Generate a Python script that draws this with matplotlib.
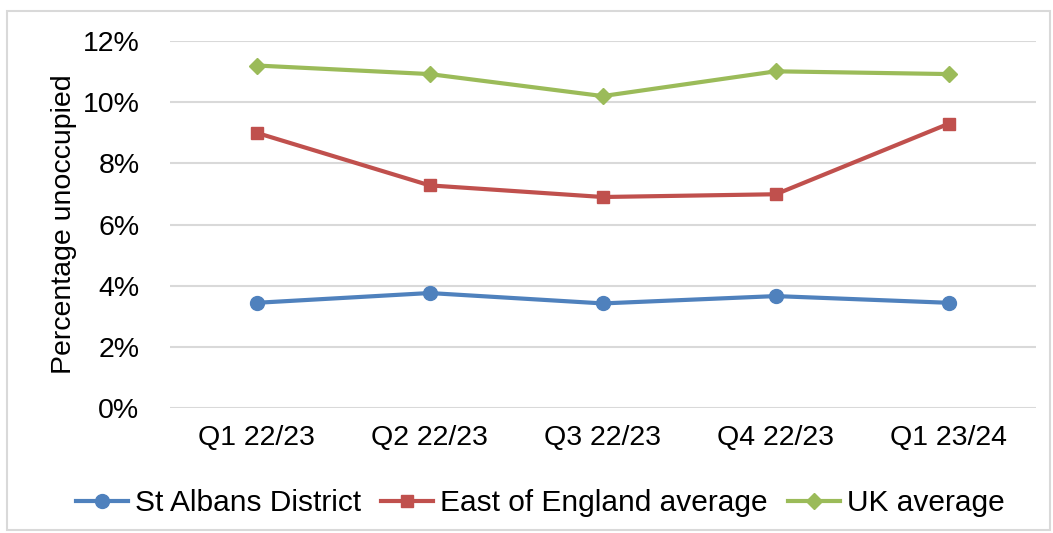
import matplotlib
matplotlib.use("Agg")
from matplotlib import pyplot as plt
from matplotlib.patches import Rectangle
from matplotlib.ticker import FuncFormatter

quarters = ["Q1 22/23", "Q2 22/23", "Q3 22/23", "Q4 22/23", "Q1 23/24"]
st_albans = [3.44, 3.76, 3.42, 3.66, 3.44]
east_england = [9.0, 7.28, 6.90, 6.99, 9.30]
uk_avg = [11.20, 10.92, 10.20, 11.01, 10.92]

plt.rcParams['font.family'] = ['Liberation Sans', 'DejaVu Sans']
plt.rcParams['font.size'] = 20.5

fig = plt.figure(figsize=(10.53, 5.33), dpi=100)
ax = fig.add_axes([0.1614, 0.2345, 0.822, 0.6885])

x = range(len(quarters))
ax.plot(x, st_albans, color='#4F81BD', lw=3, marker='o', ms=10, label='St Albans District')
ax.plot(x, east_england, color='#C0504D', lw=3, marker='s', ms=8.5, label='East of England average')
ax.plot(x, uk_avg, color='#9BBB59', lw=3, marker='D', ms=8, label='UK average')

ax.set_ylim(0, 12)
ax.set_xlim(-0.5, 4.5)
ax.set_yticks(range(0, 13, 2))
ax.yaxis.set_major_formatter(FuncFormatter(lambda v, p: '%d%%' % v))
ax.set_xticks(list(x))
ax.set_xticklabels(quarters)
ax.tick_params(length=0, pad=12)
ax.tick_params(axis='y', pad=22)
ax.grid(axis='y', color='#D9D9D9', lw=1.5)
ax.set_axisbelow(True)
for s in ax.spines.values():
    s.set_visible(False)
ax.set_ylabel('Percentage unoccupied', labelpad=4)

fig.legend(loc='center', bbox_to_anchor=(0.513, 0.056), ncol=3, frameon=False,
           fontsize=21.5, handlelength=1.75, handletextpad=0.23, columnspacing=0.67)

fig.add_artist(Rectangle((0.007, 0.006), 0.99, 0.973, transform=fig.transFigure,
                         fill=False, edgecolor='#D9D9D9', lw=1.5))

fig.savefig('out.png', dpi=100)
